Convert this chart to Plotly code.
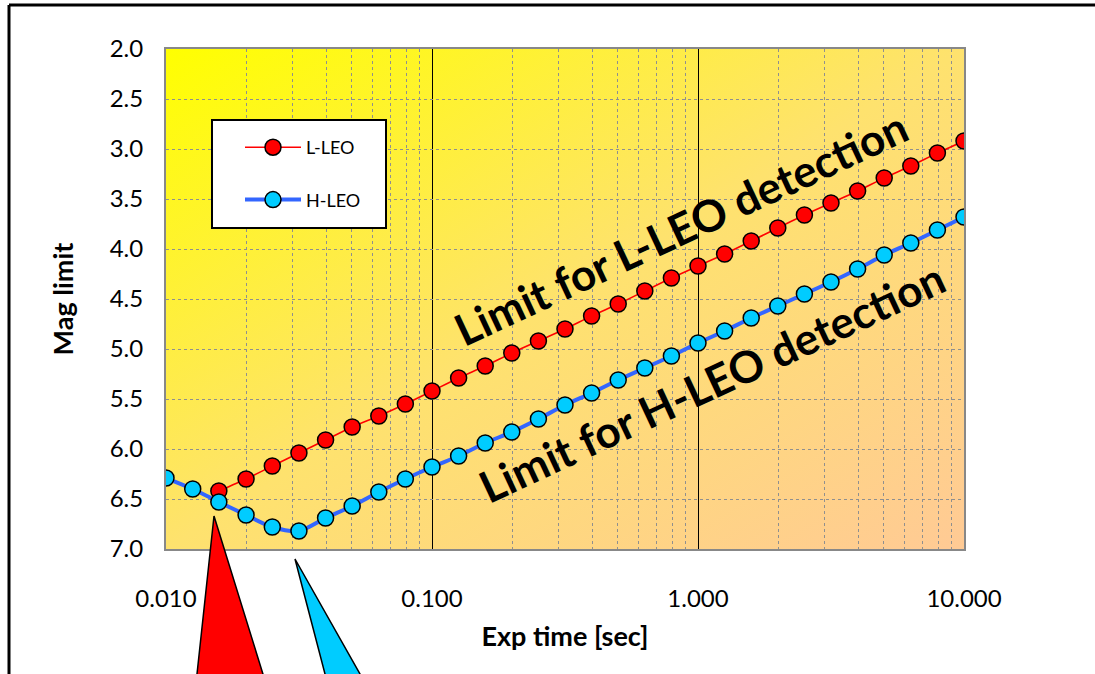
import base64
import plotly.graph_objects as go

# ---------------- data ----------------
exp_time = [0.0100, 0.0126, 0.0158, 0.0200, 0.0251, 0.0316, 0.0398, 0.0501, 0.0631, 0.0794,
            0.1000, 0.1259, 0.1585, 0.1995, 0.2512, 0.3162, 0.3981, 0.5012, 0.6310, 0.7943,
            1.000, 1.259, 1.585, 1.995, 2.512, 3.162, 3.981, 5.012, 6.310, 7.943, 10.00]

l_leo_time = exp_time[2:]
l_leo_mag = [6.42, 6.30, 6.17, 6.04, 5.91, 5.78, 5.67, 5.55, 5.42, 5.29,
             5.17, 5.04, 4.92, 4.80, 4.67, 4.55, 4.42, 4.29, 4.17, 4.05,
             3.92, 3.79, 3.66, 3.54, 3.42, 3.29, 3.17, 3.04, 2.92]

h_leo_time = exp_time
h_leo_mag = [6.29, 6.40, 6.53, 6.66, 6.78, 6.82, 6.69, 6.57, 6.43, 6.30,
             6.18, 6.07, 5.94, 5.83, 5.70, 5.56, 5.44, 5.31, 5.19, 5.07,
             4.94, 4.82, 4.69, 4.57, 4.45, 4.33, 4.20, 4.06, 3.94, 3.81, 3.68]

x_tickvals = [0.01, 0.1, 1, 10]
x_ticktext = ["0.010", "0.100", "1.000", "10.000"]

FONT = "Lato"

fig = go.Figure()

fig.add_trace(go.Scatter(
    x=l_leo_time, y=l_leo_mag, name="L-LEO", mode="lines+markers",
    line=dict(color="#FF0000", width=1.6, shape="spline", smoothing=0.6),
    marker=dict(symbol="circle", size=16, color="#FF0000", line=dict(color="#000000", width=1.5)),
    legendgroup="a",
))
fig.add_trace(go.Scatter(
    x=h_leo_time, y=h_leo_mag, name="H-LEO", mode="lines+markers",
    line=dict(color="#3366FF", width=4, shape="spline", smoothing=0.8),
    marker=dict(symbol="circle", size=16, color="#00CCFF", line=dict(color="#000000", width=1.5)),
    legendgroup="b",
))

# gradient background of plot area
svg = ('<svg xmlns="http://www.w3.org/2000/svg" width="798" height="500" viewBox="0 0 798 500" '
       'preserveAspectRatio="none"><defs><linearGradient id="g" x1="0" y1="0" x2="1" y2="1">'
       '<stop offset="0" stop-color="#FFFF00"/><stop offset="0.5" stop-color="#FEE26E"/>'
       '<stop offset="1" stop-color="#FFCA95"/></linearGradient></defs>'
       '<rect x="0" y="0" width="798" height="500" fill="url(#g)"/></svg>')
uri = "data:image/svg+xml;base64," + base64.b64encode(svg.encode()).decode()
fig.add_layout_image(dict(source=uri, xref="paper", yref="paper", x=0, y=1, sizex=1, sizey=1,
                          sizing="stretch", layer="below", xanchor="left", yanchor="top"))

W, H = 1095, 674
L, R, T, B = 166, 131, 49, 125
PW, PH = W - L - R, H - T - B


def px(x):
    return (x - L) / PW


def py(y):
    return (H - B - y) / PH


shapes = []
# outer chart frame (left and top edges visible)
shapes.append(dict(type="line", xref="paper", yref="paper", x0=px(9), x1=px(9), y0=py(720), y1=py(5),
                   line=dict(color="black", width=3)))
shapes.append(dict(type="line", xref="paper", yref="paper", x0=px(9), x1=px(1120), y0=py(5), y1=py(5),
                   line=dict(color="black", width=3)))
# legend box
shapes.append(dict(type="rect", xref="paper", yref="paper", x0=px(212), x1=px(386), y0=py(228), y1=py(120),
                   fillcolor="white", line=dict(color="black", width=2), layer="above"))
# callout triangles
shapes.append(dict(type="path", xref="paper", yref="paper",
                   path=f"M {px(214)} {py(516)} L {px(194.2)} {py(700)} L {px(271)} {py(700)} Z",
                   fillcolor="#FF0000", line=dict(color="black", width=1.5), layer="above"))
shapes.append(dict(type="path", xref="paper", yref="paper",
                   path=f"M {px(295)} {py(559)} L {px(331.8)} {py(700)} L {px(374.7)} {py(700)} Z",
                   fillcolor="#00CCFF", line=dict(color="black", width=1.5), layer="above"))

annotations = [
    dict(text="<b>Limit for L-LEO detection</b>", xref="paper", yref="paper", x=px(680), y=py(228),
         showarrow=False, textangle=-25, font=dict(family=FONT, size=44, color="black"),
         xanchor="center", yanchor="middle"),
    dict(text="<b>Limit for H-LEO detection</b>", xref="paper", yref="paper", x=px(711), y=py(382),
         showarrow=False, textangle=-25, font=dict(family=FONT, size=44, color="black"),
         xanchor="center", yanchor="middle"),
]

fig.update_layout(
    width=W, height=H,
    margin=dict(l=L, r=R, t=T, b=B, autoexpand=False),
    paper_bgcolor="white",
    plot_bgcolor="rgba(0,0,0,0)",
    font=dict(family=FONT, size=24, color="black"),
    shapes=shapes,
    annotations=annotations,
    showlegend=True,
    legend=dict(x=px(240), y=py(129), xanchor="left", yanchor="top",
                bgcolor="rgba(0,0,0,0)", borderwidth=0,
                font=dict(family=FONT, size=18, color="black"),
                tracegroupgap=26, itemwidth=56),
    xaxis=dict(type="log", range=[-2, 1], tickvals=x_tickvals, ticktext=x_ticktext,
               showgrid=True, gridcolor="black", gridwidth=1,
               minor=dict(dtick="D1", showgrid=True, gridcolor="#8f8f8f", griddash="dot", gridwidth=1,
                          ticks=""),
               showline=True, linecolor="#888888", linewidth=2, mirror=True,
               ticks="", ticklabelstandoff=27, zeroline=False,
               tickfont=dict(family=FONT, size=24),
               title=dict(text="<b>Exp time [sec]</b>", font=dict(family=FONT, size=27), standoff=16),
               automargin=False),
    yaxis=dict(range=[7.0, 2.0], dtick=0.5, tickformat=".1f",
               showgrid=True, gridcolor="#8f8f8f", griddash="dot", gridwidth=1,
               showline=True, linecolor="#888888", linewidth=2, mirror=True,
               ticks="", ticklabelstandoff=16, zeroline=False,
               tickfont=dict(family=FONT, size=24),
               title=dict(text="<b>Mag limit</b>", font=dict(family=FONT, size=27), standoff=28),
               automargin=False),
)

fig.write_html("out.html")
